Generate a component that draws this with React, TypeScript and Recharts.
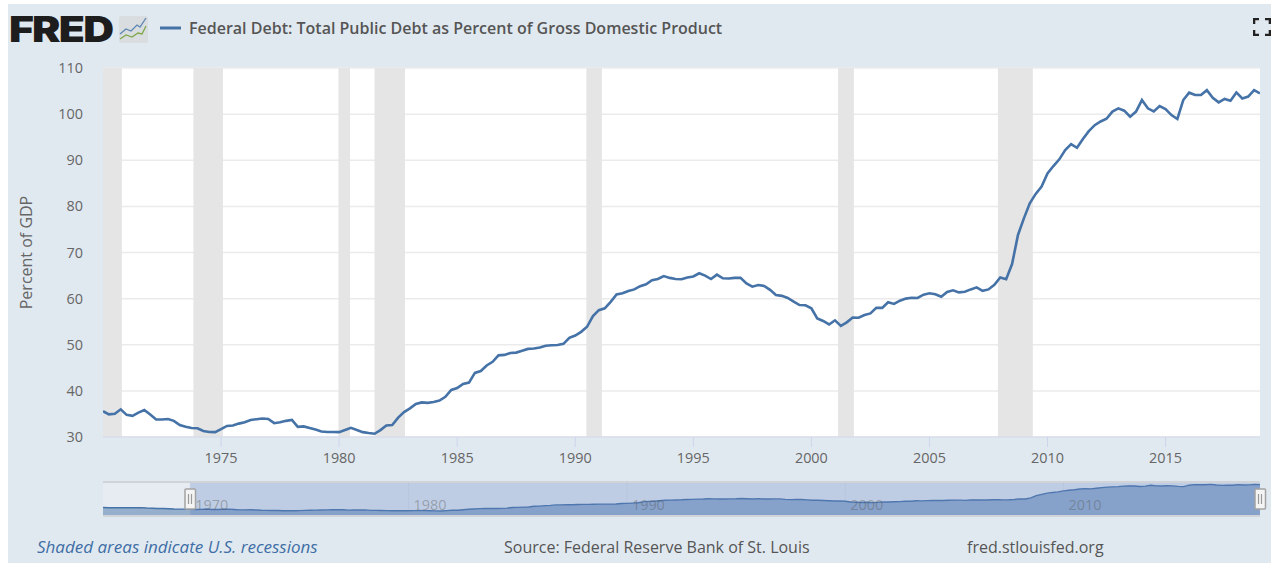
// App.tsx
import React from "react";
import {
  ComposedChart,
  Line,
  Area,
  XAxis,
  YAxis,
  CartesianGrid,
  ReferenceArea,
  ReferenceLine,
} from "recharts";

// GFDEGDQ188S, quarterly
const debtEarly = [
  40.4, 39.8, 39.6, 39.8, 39.5, 39.6, 39.7, 39.9, 38.8, 38.2, 37.7, 37.7, 36.8, 36.1, 35.9, 35.7,
];
const debt = [
  35.6, 34.9, 35.05, 36.0, 34.8, 34.6, 35.3, 35.85, 34.9, 33.8, 33.8, 33.9, 33.5, 32.6, 32.2, 31.95,
  31.9, 31.3, 31.1, 31.05, 31.7, 32.4, 32.5, 32.9, 33.2, 33.7, 33.85, 34.0, 33.9, 33.0, 33.2, 33.5,
  33.7, 32.2, 32.3, 31.95, 31.6, 31.2, 31.1, 31.1, 31.05, 31.5, 32.0, 31.5, 31.05, 30.85, 30.7, 31.5,
  32.5, 32.6, 34.2, 35.4, 36.2, 37.15, 37.5, 37.4, 37.6, 37.9, 38.7, 40.2, 40.6, 41.5, 41.8, 43.9,
  44.3, 45.5, 46.3, 47.7, 47.8, 48.2, 48.3, 48.7, 49.1, 49.2, 49.4, 49.8, 49.9, 49.95, 50.2, 51.5,
  52.0, 52.8, 53.9, 56.2, 57.5, 57.9, 59.3, 60.9, 61.15, 61.65, 62.0, 62.7, 63.1, 64.0, 64.25, 64.9,
  64.5, 64.25, 64.2, 64.6, 64.8, 65.5, 65.0, 64.25, 65.2, 64.4, 64.35, 64.5, 64.5, 63.3, 62.6, 62.95,
  62.75, 61.9, 60.8, 60.6, 60.15, 59.35, 58.6, 58.55, 57.9, 55.7, 55.15, 54.4, 55.3, 54.1, 54.85, 55.9,
  55.85, 56.45, 56.8, 58.0, 58.0, 59.2, 58.85, 59.55, 60.0, 60.2, 60.15, 60.85, 61.15, 60.95, 60.4, 61.45,
  61.8, 61.35, 61.5, 62.0, 62.45, 61.7, 62.0, 63.0, 64.6, 64.2, 67.5, 73.8, 77.4, 80.65, 82.7, 84.3,
  87.15, 88.75, 90.2, 92.2, 93.5, 92.7, 94.6, 96.3, 97.6, 98.4, 99.0, 100.55, 101.25, 100.75, 99.45, 100.55,
  103.05, 101.25, 100.6, 101.75, 101.1, 99.8, 98.95, 103.05, 104.65, 104.15, 104.15, 105.2, 103.55, 102.55, 103.3, 102.9,
  104.7, 103.4, 103.8, 105.2, 104.5,
];
const yTicks = [30, 40, 50, 60, 70, 80, 90, 100, 110];
const xTicks = [1975, 1980, 1985, 1990, 1995, 2000, 2005, 2010, 2015];
const navTicks = [1970, 1980, 1990, 2000, 2010];
const recessionStart = [1970, 1973.83, 1979.97, 1981.5, 1990.47, 2001.13, 2007.9];
const recessionEnd = [1970.8, 1975.08, 1980.46, 1982.79, 1991.13, 2001.8, 2009.38];

const FONT = "'Open Sans', sans-serif";
const LINE = "#4572a7";

const rows = debt.map((v, i) => ({ t: 1970 + i / 4, v }));
const navRows = [...debtEarly, ...debt].map((v, i) => ({ t: 1966 + i / 4, v }));

// navigator year mark, drawn over the area like in the original
function NavMark(props: any) {
  const x = props.x1;
  return (
    <g>
      <line x1={x} x2={x} y1={8} y2={42} stroke="#8f9fb8" strokeOpacity={0.12} />
      <text x={x + 5} y={36} fontFamily={FONT} fontSize={14.4} fill="#555" fillOpacity={0.4}>
        {props.year}
      </text>
    </g>
  );
}

function Handle(props: any) {
  const x = Math.round(props.x1);
  return (
    <g>
      <rect x={x - 5} y={15} width={10.5} height={20} rx={1} fill="#f4f4f4" stroke="#a3a3a3" strokeWidth={1.5} />
      <path d={`M${x - 1.5} 20V30M${x + 1.5} 20V30`} stroke="#9a9a9a" strokeWidth={1.2} />
    </g>
  );
}

function TopIcon() {
  return (
    <svg width={30} height={28} style={{ position: "absolute", left: 111, top: 12 }}>
      <rect x={0} y={0} width={29} height={27} rx={2} fill="#dadde0" />
      <path d="M1 18L7 13L12 15L18 9L21 11L27 2" fill="none" stroke="#5d87b3" strokeWidth={1.3} />
      <path d="M1 23L7 19L13 21L19 17L23 18L27 10" fill="none" stroke="#7ea84a" strokeWidth={1.3} />
    </svg>
  );
}

function FullIcon() {
  return (
    <svg width={18} height={18} style={{ position: "absolute", left: 1245, top: 14 }}>
      <path
        d="M1 6V1H6M12 1H17V6M17 12V17H12M6 17H1V12"
        fill="none"
        stroke="#222"
        strokeWidth={2.6}
      />
    </svg>
  );
}

const textAt = (left: number, top: number, style: React.CSSProperties = {}): React.CSSProperties => ({
  position: "absolute",
  left,
  top,
  fontFamily: FONT,
  whiteSpace: "nowrap",
  ...style,
});

export default function App() {
  return (
    <div
      style={{
        position: "absolute",
        left: 8,
        top: 4,
        width: 1263,
        height: 559,
        background: "#e1e9f0",
        overflow: "hidden",
      }}
    >
      <div
        style={textAt(1, 3, {
          fontFamily: "Inter, sans-serif",
          fontWeight: 900,
          fontSize: 35,
          letterSpacing: -1.5,
          color: "#1d1d1d",
          lineHeight: "44px",
          transform: "scaleX(1.22)",
          transformOrigin: "left center",
        })}
      >
        FRED
      </div>
      <TopIcon />
      <svg width={24} height={6} style={{ position: "absolute", left: 152, top: 21 }}>
        <line x1={0} x2={21} y1={3} y2={3} stroke={LINE} strokeWidth={3} />
      </svg>
      <div style={textAt(181, 13, { fontSize: 16, fontWeight: 600, color: "#555", lineHeight: "22px" })}>
        Federal Debt: Total Public Debt as Percent of Gross Domestic Product
      </div>
      <FullIcon />

      <div style={{ position: "absolute", left: 0, top: 0 }}>
        <ComposedChart
          width={1263}
          height={470}
          data={rows}
          margin={{ top: 64, right: 11, bottom: 7, left: 0 }}
        >
          <CartesianGrid
            vertical={false}
            horizontalValues={yTicks}
            stroke="#ebebeb"
            strokeWidth={1.5}
            fill="#ffffff"
            fillOpacity={1}
          />
          <XAxis
            dataKey="t"
            type="number"
            domain={[1970, 2019]}
            ticks={xTicks}
            allowDataOverflow
            height={30}
            tickSize={10}
            tickMargin={6}
            tick={{ fontFamily: FONT, fontSize: 14.4, fill: "#666" }}
            stroke="#ccd6eb"
          />
          <YAxis
            type="number"
            domain={[30, 110]}
            ticks={yTicks}
            width={95}
            axisLine={false}
            tickLine={false}
            tickMargin={14}
            tick={{ fontFamily: FONT, fontSize: 14.4, fill: "#666" }}
            label={{
              value: "Percent of GDP",
              angle: -90,
              position: "insideLeft",
              offset: 18,
              style: { fontFamily: FONT, fontSize: 16, fill: "#666", textAnchor: "middle" },
            }}
          />
          {recessionStart.map((s, i) => (
            <ReferenceArea
              key={s}
              x1={s}
              x2={recessionEnd[i]}
              y1={30}
              y2={110}
              fill="#e5e5e5"
              fillOpacity={1}
              stroke="none"
            />
          ))}
          <Line
            dataKey="v"
            type="linear"
            stroke={LINE}
            strokeWidth={2.6}
            dot={false}
            activeDot={false}
            isAnimationActive={false}
          />
        </ComposedChart>
      </div>

      <div style={{ position: "absolute", left: 0, top: 470 }}>
        <ComposedChart
          width={1263}
          height={60}
          data={navRows}
          margin={{ top: 8, right: 11, bottom: 0, left: 95 }}
        >
          <CartesianGrid vertical={false} horizontal={false} fill="#e6ecf2" fillOpacity={1} />
          <XAxis
            dataKey="t"
            type="number"
            domain={[1966, 2019]}
            ticks={navTicks}
            height={18}
            interval={0}
            tickLine={false}
            tick={false}
            stroke="#d0d3d7"
            strokeWidth={2}
          />
          <YAxis hide type="number" domain={[16.5, 112]} />
          <Area
            dataKey="v"
            type="linear"
            stroke={LINE}
            strokeWidth={1.4}
            fill={LINE}
            fillOpacity={0.5}
            dot={false}
            activeDot={false}
            isAnimationActive={false}
          />
          <ReferenceArea x1={1970} x2={2019} y1={16.5} y2={112} fill="#6685c2" fillOpacity={0.3} stroke="none" />
          <ReferenceLine y={112} stroke="#d0d3d7" strokeWidth={2} />
          {navTicks.map((yr) => (
            <ReferenceLine key={yr} x={yr} shape={<NavMark year={yr} />} />
          ))}
          <ReferenceLine x={1970} shape={<Handle />} />
          <ReferenceLine x={2019} shape={<Handle />} />
        </ComposedChart>
      </div>

      <div style={textAt(29, 532, { fontSize: 17, fontStyle: "italic", color: "#3e6ea5", lineHeight: "22px" })}>
        Shaded areas indicate U.S. recessions
      </div>
      <div style={textAt(496, 532, { fontSize: 16, color: "#555", lineHeight: "22px" })}>
        Source: Federal Reserve Bank of St. Louis
      </div>
      <div style={textAt(959, 532, { fontSize: 16, color: "#555", lineHeight: "22px" })}>
        fred.stlouisfed.org
      </div>
    </div>
  );
}
